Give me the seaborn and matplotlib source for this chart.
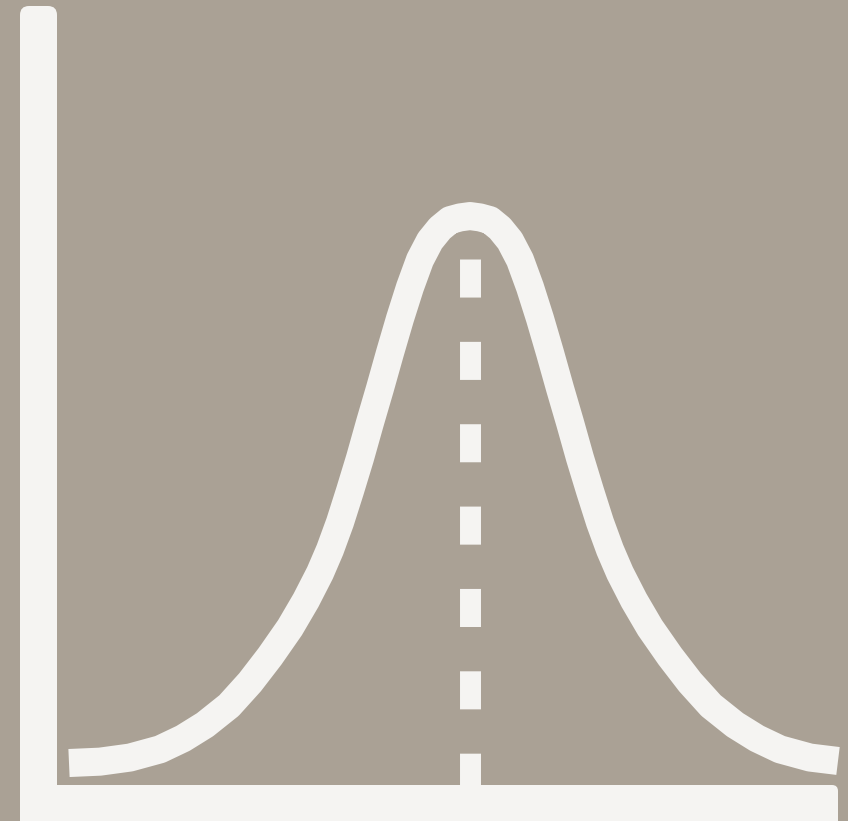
import matplotlib
matplotlib.use("Agg")
import matplotlib.pyplot as plt
import seaborn as sns
import pandas as pd
from matplotlib.patches import FancyBboxPatch
from matplotlib.transforms import IdentityTransform

# -----------------------------
# data (bell curve icon)
# -----------------------------
x_vals = [-4.01, -3.70, -3.40, -3.10, -2.87, -2.65, -2.41, -2.20, -2.00, -1.80,
          -1.64, -1.50, -1.40, -1.30, -1.20, -1.10, -1.00, -0.90, -0.80, -0.70,
          -0.60, -0.50, -0.40, -0.30, -0.20, -0.10, 0.00,
          0.10, 0.20, 0.30, 0.40, 0.50, 0.60, 0.70, 0.80, 0.90, 1.00,
          1.10, 1.20, 1.30, 1.40, 1.50, 1.64, 1.80, 2.00, 2.20, 2.41,
          2.65, 2.87, 3.10, 3.40, 3.68]
density = [0.000, 0.001, 0.004, 0.010, 0.018, 0.028, 0.042, 0.059, 0.078, 0.099,
           0.119, 0.139, 0.156, 0.176, 0.199, 0.223, 0.249, 0.274, 0.300, 0.325,
           0.348, 0.368, 0.382, 0.391, 0.397, 0.399, 0.400,
           0.399, 0.397, 0.391, 0.382, 0.368, 0.348, 0.325, 0.300, 0.274, 0.249,
           0.223, 0.199, 0.176, 0.156, 0.139, 0.119, 0.099, 0.078, 0.059, 0.042,
           0.028, 0.018, 0.010, 0.004, 0.0015]
mean_x = 0.0
mean_line_top = 0.3686
mean_line_bottom = -0.02

df = pd.DataFrame({"x": x_vals, "density": density})

bg = "#aaa195"
white = "#f5f4f2"

sns.set_theme(style="white")
plt.rcParams["lines.scale_dashes"] = False

fig = plt.figure(figsize=(8.48, 8.21), dpi=100)
fig.patch.set_facecolor(bg)
ax = fig.add_axes([0, 0, 1, 1])
ax.set_facecolor(bg)

# bell curve
sns.lineplot(data=df, x="x", y="density", ax=ax, color=white, linewidth=20.2,
             sort=False, estimator=None)
ax.lines[-1].set_solid_capstyle("butt")
ax.lines[-1].set_solid_joinstyle("round")

# dashed mean line
ax.plot([mean_x, mean_x], [mean_line_top, mean_line_bottom], color=white,
        linewidth=15.1, dashes=(27.4, 31.9), dash_capstyle="butt", zorder=2)

ax.set_xlim(-4.70, 3.78)
ax.set_ylim(-0.0424, 0.558)
ax.set_axis_off()

# thick rounded axis bars (pixel coordinates)
ident = IdentityTransform()
ax.add_patch(FancyBboxPatch((20, -30), 37, 845, boxstyle="round,pad=0,rounding_size=9",
                            transform=ident, facecolor=white, edgecolor="none", zorder=5))
ax.add_patch(FancyBboxPatch((20, -30), 818, 66, boxstyle="round,pad=0,rounding_size=6",
                            transform=ident, facecolor=white, edgecolor="none", zorder=5))

fig.savefig("out.png", dpi=100, facecolor=bg)
